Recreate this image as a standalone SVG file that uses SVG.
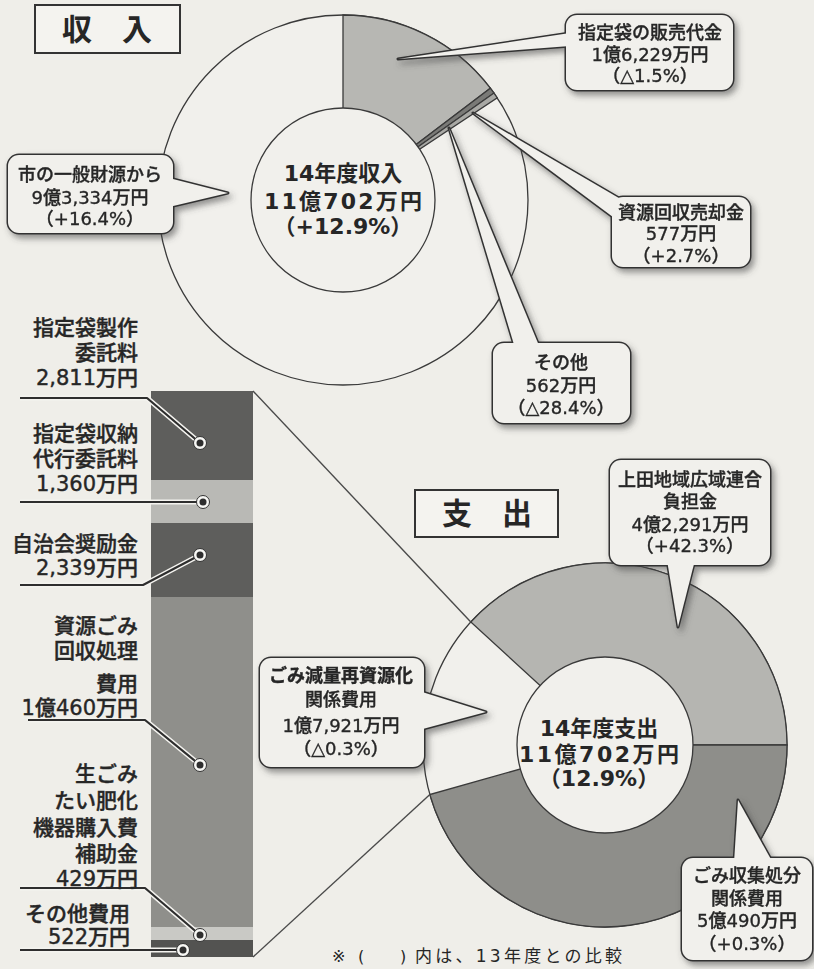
<svg xmlns="http://www.w3.org/2000/svg" width="814" height="969" viewBox="0 0 814 969">
<defs>
<style>
text{font-family:"DejaVu Sans","Noto Sans CJK JP",sans-serif;fill:#262626}
.b{font-size:18px;text-anchor:middle;font-weight:500;stroke:#262626;stroke-width:0.35}
.s{font-size:21px;text-anchor:end;font-weight:500;stroke:#262626;stroke-width:0.4}
.c{font-size:22px;text-anchor:middle;font-weight:700}
.t{font-size:30px;text-anchor:middle;font-weight:700}
.bs rect,.bs polygon{fill:none;stroke:#333;stroke-width:3;stroke-linejoin:round}
.bf rect,.bf polygon{fill:#f1f0ec;stroke:none}
.pie{stroke:#3a3a3a;stroke-width:1.3}
.conn{fill:none;stroke:#4a4a4a;stroke-width:1.4}
.halo{fill:none;stroke:#f4f3ef;stroke-width:5;stroke-linejoin:round}
.ld{fill:none;stroke:#2e2e2e;stroke-width:2.2;stroke-linejoin:round}
.dotw{fill:#f7f7f4;stroke:#333;stroke-width:1}
.dotk{fill:#2e2e2e}
.tbox{fill:#f4f3ef;stroke:#333;stroke-width:2}
</style>
<filter id="sh" x="-20%" y="-20%" width="150%" height="150%">
<feDropShadow dx="3" dy="4" stdDeviation="3" flood-color="#444" flood-opacity="0.55"/>
</filter>
</defs>
<rect width="814" height="969" fill="#efeee9"/>

<!-- Income pie -->
<g id="income-pie">
<circle class="pie" cx="343" cy="200" r="185" fill="#f1f0ec"/>
<path class="pie" d="M343,200 L343,15 A185,185 0 0 1 490.35,88.15 Z" fill="#b7b7b3"/>
<path class="pie" d="M343,200 L490.35,88.15 A185,185 0 0 1 493.98,93.09 Z" fill="#7a7a77"/>
<path class="pie" d="M343,200 L493.98,93.09 A185,185 0 0 1 497.27,97.90 Z" fill="#a9a9a5"/>
<circle class="pie" cx="343" cy="200" r="92" fill="#f1f0ec"/>
<text class="c" x="343" y="181">14年度収入</text>
<text class="c" x="343" y="209" textLength="158" lengthAdjust="spacing">11億702万円</text>
<text class="c" x="343" y="234">（+12.9%）</text>
</g>

<!-- Expense ring -->
<g id="expense-ring">
<circle class="pie" cx="605" cy="745" r="182" fill="#f1f0ec"/>
<path class="pie" d="M605,745 L470.81,622.04 A182,182 0 0 1 787,745 Z" fill="#b5b5b1"/>
<path class="pie" d="M605,745 L787,745 A182,182 0 0 1 429.88,794.56 Z" fill="#8e8e8a"/>
<circle class="pie" cx="605" cy="745" r="88" fill="#f1f0ec"/>
<text class="c" x="599" y="736">14年度支出</text>
<text class="c" x="599" y="762" textLength="160" lengthAdjust="spacing">11億702万円</text>
<text class="c" x="599" y="786">（12.9%）</text>
</g>

<!-- Titles -->
<g id="title-income">
<rect class="tbox" x="35" y="5" width="145" height="48"/>
<text class="t" x="107" y="40">収　入</text>
</g>
<g id="title-expense">
<rect class="tbox" x="415" y="490" width="143" height="47"/>
<text class="t" x="487" y="524">支　出</text>
</g>

<!-- Stacked bar -->
<g id="bar">
<rect x="151" y="391" width="102" height="89" fill="#5e5e5c"/>
<rect x="151" y="480" width="102" height="43" fill="#b9b9b5"/>
<rect x="151" y="523" width="102" height="74" fill="#5e5e5c"/>
<rect x="151" y="597" width="102" height="330" fill="#8f8f8b"/>
<rect x="151" y="927" width="102" height="13" fill="#c9c9c5"/>
<rect x="151" y="940" width="102" height="17" fill="#535351"/>
</g>

<!-- Connectors -->
<g id="connectors">
<line class="conn" x1="253" y1="391" x2="470.81" y2="622.04"/>
<line class="conn" x1="253" y1="957" x2="429.88" y2="794.56"/>
<g id="leaders">
<polyline class="halo" points="20,398 147,398 200,443"/>
<polyline class="ld" points="20,398 147,398 200,443"/>
<polyline class="halo" points="20,502 203,502"/>
<polyline class="ld" points="20,502 203,502"/>
<polyline class="halo" points="20,585 143,585 200,555"/>
<polyline class="ld" points="20,585 143,585 200,555"/>
<polyline class="halo" points="28,720 145,720 200,765"/>
<polyline class="ld" points="28,720 145,720 200,765"/>
<polyline class="halo" points="20,888 145,888 200,935"/>
<polyline class="ld" points="20,888 145,888 200,935"/>
<polyline class="halo" points="20,950 183,950"/>
<polyline class="ld" points="20,950 183,950"/>
<circle class="dotw" cx="200" cy="443" r="6.5"/><circle class="dotk" cx="200" cy="443" r="3.5"/>
<circle class="dotw" cx="203" cy="502" r="6.5"/><circle class="dotk" cx="203" cy="502" r="3.5"/>
<circle class="dotw" cx="200" cy="555" r="6.5"/><circle class="dotk" cx="200" cy="555" r="3.5"/>
<circle class="dotw" cx="200" cy="765" r="6.5"/><circle class="dotk" cx="200" cy="765" r="3.5"/>
<circle class="dotw" cx="200" cy="935" r="6.5"/><circle class="dotk" cx="200" cy="935" r="3.5"/>
<circle class="dotw" cx="183" cy="950" r="6.5"/><circle class="dotk" cx="183" cy="950" r="3.5"/>
</g>
</g>

<!-- Bar labels -->
<g id="lbl-seisaku">
<text class="s" x="138" y="335">指定袋製作</text>
<text class="s" x="138" y="360">委託料</text>
<text class="s" x="138" y="385">2,811万円</text>
</g>
<g id="lbl-shuno">
<text class="s" x="138" y="441">指定袋収納</text>
<text class="s" x="138" y="466">代行委託料</text>
<text class="s" x="138" y="491">1,360万円</text>
</g>
<g id="lbl-jichikai">
<text class="s" x="138" y="551">自治会奨励金</text>
<text class="s" x="138" y="575">2,339万円</text>
</g>
<g id="lbl-shigen">
<text class="s" x="138" y="633">資源ごみ</text>
<text class="s" x="138" y="658">回収処理</text>
<text class="s" x="138" y="691">費用</text>
<text class="s" x="138" y="715">1億460万円</text>
</g>
<g id="lbl-namagomi">
<text class="s" x="138" y="781">生ごみ</text>
<text class="s" x="138" y="808">たい肥化</text>
<text class="s" x="138" y="835">機器購入費</text>
<text class="s" x="138" y="861">補助金</text>
<text class="s" x="138" y="886">429万円</text>
</g>
<g id="lbl-sonota-hiyo">
<text class="s" x="130" y="921">その他費用</text>
<text class="s" x="130" y="944">522万円</text>
</g>

<!-- Bubbles -->
<g id="bub-hanbai" filter="url(#sh)">
<g class="bs"><rect x="566" y="15" width="167" height="75" rx="11"/><polygon points="570,33 398,59 570,46"/></g>
<g class="bf"><rect x="566" y="15" width="167" height="75" rx="11"/><polygon points="570,33 398,59 570,46"/></g>
<text class="b" x="650" y="39">指定袋の販売代金</text>
<text class="b" x="650" y="61">1億6,229万円</text>
<text class="b" x="650" y="82">（△1.5%）</text>
</g>
<g id="bub-ippan" filter="url(#sh)">
<g class="bs"><rect x="8" y="155" width="165" height="78" rx="11"/><polygon points="169,178 228,193 169,207"/></g>
<g class="bf"><rect x="8" y="155" width="165" height="78" rx="11"/><polygon points="169,178 228,193 169,207"/></g>
<text class="b" x="90" y="181">市の一般財源から</text>
<text class="b" x="90" y="204">9億3,334万円</text>
<text class="b" x="90" y="225">（+16.4%）</text>
</g>
<g id="bub-baikyaku" filter="url(#sh)">
<g class="bs"><rect x="612" y="197" width="138" height="70" rx="11"/><polygon points="473,113 624,201 617,220"/></g>
<g class="bf"><rect x="612" y="197" width="138" height="70" rx="11"/><polygon points="473,113 624,201 617,220"/></g>
<text class="b" x="681" y="219">資源回収売却金</text>
<text class="b" x="681" y="240">577万円</text>
<text class="b" x="681" y="262">（+2.7%）</text>
</g>
<g id="bub-sonota" filter="url(#sh)">
<g class="bs"><rect x="493" y="343" width="137" height="80" rx="11"/><polygon points="449,128 515,348 540,348"/></g>
<g class="bf"><rect x="493" y="343" width="137" height="80" rx="11"/><polygon points="449,128 515,348 540,348"/></g>
<text class="b" x="561" y="369">その他</text>
<text class="b" x="561" y="392">562万円</text>
<text class="b" x="561" y="414">（△28.4%）</text>
</g>
<g id="bub-ueda" filter="url(#sh)">
<g class="bs"><rect x="610" y="460" width="160" height="105" rx="11"/><polygon points="667,560 678,627 695,560"/></g>
<g class="bf"><rect x="610" y="460" width="160" height="105" rx="11"/><polygon points="667,560 678,627 695,560"/></g>
<text class="b" x="690" y="486">上田地域広域連合</text>
<text class="b" x="690" y="508">負担金</text>
<text class="b" x="690" y="531">4億2,291万円</text>
<text class="b" x="690" y="552">（+42.3%）</text>
</g>
<g id="bub-genryo" filter="url(#sh)">
<g class="bs"><rect x="260" y="658" width="164" height="109" rx="11"/><polygon points="419,691 486,712 419,730"/></g>
<g class="bf"><rect x="260" y="658" width="164" height="109" rx="11"/><polygon points="419,691 486,712 419,730"/></g>
<text class="b" x="341" y="682" style="font-weight:700">ごみ減量再資源化</text>
<text class="b" x="341" y="706">関係費用</text>
<text class="b" x="341" y="732">1億7,921万円</text>
<text class="b" x="341" y="755">（△0.3%）</text>
</g>
<g id="bub-shushu" filter="url(#sh)">
<g class="bs"><rect x="682" y="858" width="130" height="102" rx="11"/><polygon points="734,863 738,800 773,863"/></g>
<g class="bf"><rect x="682" y="858" width="130" height="102" rx="11"/><polygon points="734,863 738,800 773,863"/></g>
<text class="b" x="747" y="882">ごみ収集処分</text>
<text class="b" x="747" y="905">関係費用</text>
<text class="b" x="747" y="927">5億490万円</text>
<text class="b" x="747" y="950">（+0.3%）</text>
</g>

<!-- Footnote -->
<g id="footnote">
<text x="332" y="962" style="font-size:16px">※</text>
<text x="358" y="962" style="font-size:16px">(</text>
<text x="400" y="962" style="font-size:16px">)</text>
<text x="415" y="962" style="font-size:17px" textLength="207" lengthAdjust="spacing">内は、13年度との比較</text>
</g>
</svg>
